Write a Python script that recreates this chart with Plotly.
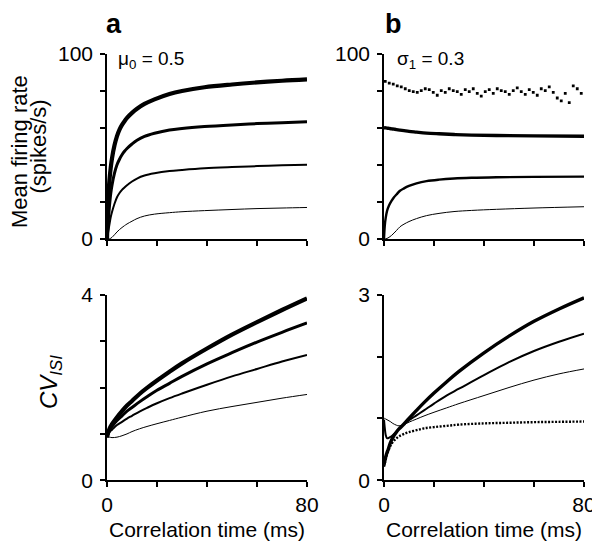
import plotly.graph_objects as go

# ---------------- data ----------------
tau_a = [0, 0.5, 1, 1.5, 2, 3, 4, 5, 6, 7, 8, 10, 12, 15, 19, 25, 30, 39, 50, 60, 70, 80]
rate_a1 = [0, 22, 32, 38.5, 43.5, 50.5, 55.5, 59, 61.5, 63.5, 65.3, 68, 70.2, 72.8, 75.3, 78.2, 79.8, 81.8, 83.3, 84.4, 85.3, 86]
rate_a2 = [0, 10, 18, 24.5, 29, 35.5, 40, 43, 45.4, 47.3, 48.8, 51.2, 53.2, 55.3, 57, 58.8, 59.6, 60.6, 61.5, 62.2, 62.7, 63.2]
rate_a3 = [0, 4, 8, 11.8, 14.5, 19, 22.5, 24.8, 26.5, 27.8, 29, 31, 32.6, 34.2, 35.4, 36.6, 37.2, 38.1, 38.8, 39.3, 39.7, 40]
rate_a4 = [0, 0, 0.1, 0.4, 0.9, 2.3, 3.8, 5.1, 6.2, 7.2, 8.1, 9.6, 11, 12.4, 13.4, 14.2, 14.7, 15.3, 15.9, 16.4, 16.7, 17]

tau_b = [0, 0.3, 0.7, 1.2, 2, 3, 4, 5, 6.4, 8, 10, 13, 17, 22, 28, 35, 45, 60, 80]
rate_b1 = [60, 59.95, 59.9, 59.8, 59.6, 59.4, 59.2, 59, 58.7, 58.4, 58, 57.6, 57.1, 56.7, 56.3, 56, 55.8, 55.6, 55.4]
rate_b2 = [0, 7, 11.5, 15, 18, 20.5, 22.5, 24, 26, 27.3, 28.6, 30, 31.2, 32, 32.6, 33, 33.3, 33.5, 33.6]
rate_b3 = [0, 0, 0.1, 0.3, 0.9, 1.9, 3.2, 4.6, 6.6, 8, 9.4, 11, 12.6, 13.8, 14.8, 15.4, 16, 16.7, 17.4]

tau_sim = [0.5 + 1.6 * i for i in range(50)]
rate_sim = [85, 84, 83.5, 82.5, 82, 81, 80, 79.5, 79, 80, 81, 80.5, 79, 77.5, 80, 79, 81, 80,
            79.5, 78, 80.5, 79.5, 81, 78.5, 77, 79.5, 80.5, 78.5, 81, 80, 79.5, 78, 80, 81.5,
            79.5, 78, 80.5, 79, 77.5, 81, 80, 82, 79, 76, 74.5, 78.5, 73.5, 82.5, 81, 78.5]

tau_cv = [0, 1, 2, 4, 6, 8, 10, 13, 16, 20, 25, 30, 40, 50, 60, 70, 80]
cv_a1 = [0.93, 1.11, 1.21, 1.36, 1.49, 1.61, 1.71, 1.86, 1.99, 2.15, 2.34, 2.52, 2.84, 3.14, 3.41, 3.67, 3.92]
cv_a2 = [0.93, 1.08, 1.16, 1.29, 1.39, 1.49, 1.57, 1.69, 1.80, 1.94, 2.09, 2.24, 2.51, 2.75, 2.98, 3.19, 3.39]
cv_a3 = [0.93, 1.04, 1.09, 1.19, 1.26, 1.33, 1.39, 1.48, 1.56, 1.66, 1.77, 1.87, 2.06, 2.24, 2.40, 2.56, 2.70]
cv_a4 = [0.94, 0.93, 0.92, 0.93, 0.96, 1.0, 1.05, 1.11, 1.16, 1.22, 1.29, 1.36, 1.49, 1.59, 1.68, 1.77, 1.85]

tau_cvb = [0, 0.3, 0.7, 1.2, 1.6, 2.5, 3.5, 5, 6, 8, 10, 13, 16, 20, 25, 30, 40, 50, 60, 70, 80]
cv_b1 = [0.25, 0.31, 0.38, 0.45, 0.49, 0.6, 0.69, 0.78, 0.83, 0.91, 1.0, 1.13, 1.255, 1.41, 1.59, 1.76, 2.06, 2.33, 2.57, 2.77, 2.95]
cv_b2 = [0.98, 0.85, 0.73, 0.68, 0.68, 0.7, 0.73, 0.79, 0.83, 0.91, 0.97, 1.05, 1.13, 1.24, 1.37, 1.48, 1.70, 1.91, 2.09, 2.24, 2.37]
cv_b3 = [1.0, 1.0, 0.99, 0.98, 0.97, 0.95, 0.92, 0.89, 0.88, 0.9, 0.94, 0.99, 1.04, 1.1, 1.17, 1.24, 1.37, 1.50, 1.62, 1.72, 1.80]
cv_sim = [0.22, 0.27, 0.34, 0.42, 0.46, 0.55, 0.62, 0.68, 0.71, 0.75, 0.78, 0.81, 0.84, 0.86, 0.88, 0.90, 0.92, 0.93, 0.94, 0.945, 0.95]

panel_labels = ["a", "b"]
param_labels = ["μ<sub>0</sub> = 0.5", "σ<sub>1</sub> = 0.3"]

# ---------------- figure ----------------
# the page body has an 8px margin; size the figure so it fits the 600x549 window
OFF = 8
W, H = 600 - OFF, 549 - OFF
FONT = "Liberation Sans, Arial, sans-serif"


def px(x):
    return (x - OFF) / W


def py(y):
    return 1 - (y - OFF) / H


fig = go.Figure()


def line(x, y, w, xa, ya, dash="solid"):
    fig.add_trace(go.Scatter(x=x, y=y, mode="lines", xaxis=xa, yaxis=ya,
                             line=dict(color="black", width=w, shape="spline", dash=dash),
                             showlegend=False, hoverinfo="skip"))


# top a
line(tau_a, rate_a4, 1, "x", "y")
line(tau_a, rate_a3, 2, "x", "y")
line(tau_a, rate_a2, 3, "x", "y")
line(tau_a, rate_a1, 4.2, "x", "y")
# top b
line(tau_b, rate_b3, 1, "x2", "y2")
line(tau_b, rate_b2, 2.4, "x2", "y2")
line(tau_b, rate_b1, 3.4, "x2", "y2")
fig.add_trace(go.Scatter(x=tau_sim, y=rate_sim, mode="markers", xaxis="x2", yaxis="y2",
                         marker=dict(color="black", size=2.8, symbol="square"),
                         showlegend=False, hoverinfo="skip"))
# bottom a
line(tau_cv, cv_a4, 1, "x3", "y3")
line(tau_cv, cv_a3, 2, "x3", "y3")
line(tau_cv, cv_a2, 3, "x3", "y3")
line(tau_cv, cv_a1, 4.2, "x3", "y3")
# bottom b
line(tau_cvb, cv_b3, 1, "x4", "y4")
line(tau_cvb, cv_b2, 2, "x4", "y4")
line(tau_cvb, cv_b1, 3.4, "x4", "y4")
line(tau_cvb, cv_sim, 2.4, "x4", "y4", dash="2px,1.5px")

xa_dom = [px(107), px(307)]
xb_dom = [px(384), px(584)]
ytop_dom = [py(239), py(53.5)]
ybot_dom = [py(480.3), py(294.7)]

axis_common = dict(showline=True, linecolor="black", linewidth=1.5, ticks="outside",
                   ticklen=5, tickwidth=1.5, tickcolor="black", showgrid=False,
                   zeroline=False, automargin=False,
                   tickfont=dict(family=FONT, size=21, color="black"))
yaxis_extra = dict(ticklabelstandoff=3)

xt = [0, 20, 40, 60, 80]
fig.update_layout(
    width=W, height=H, margin=dict(l=0, r=0, t=0, b=0, pad=0, autoexpand=False),
    plot_bgcolor="white", paper_bgcolor="white",
    xaxis=dict(domain=xa_dom, anchor="y", range=[0, 80], tickvals=xt,
               ticktext=[""] * 5, **axis_common),
    yaxis=dict(domain=ytop_dom, anchor="x", range=[0, 100], tickvals=[0, 20, 40, 60, 80, 100],
               ticktext=["0", "", "", "", "", "100"], **axis_common, **yaxis_extra),
    xaxis2=dict(domain=xb_dom, anchor="y2", range=[0, 80], tickvals=xt,
                ticktext=[""] * 5, **axis_common),
    yaxis2=dict(domain=ytop_dom, anchor="x2", range=[0, 100], tickvals=[0, 20, 40, 60, 80, 100],
                ticktext=["0", "", "", "", "", "100"], **axis_common, **yaxis_extra),
    xaxis3=dict(domain=xa_dom, anchor="y3", range=[0, 80], tickvals=xt,
                ticktext=["0", "", "", "", "80"], **axis_common),
    yaxis3=dict(domain=ybot_dom, anchor="x3", range=[0, 4], tickvals=[0, 1, 2, 3, 4],
                ticktext=["0", "", "", "", "4"], **axis_common, **yaxis_extra),
    xaxis4=dict(domain=xb_dom, anchor="y4", range=[0, 80], tickvals=xt,
                ticktext=["0", "", "", "", "80"], **axis_common),
    yaxis4=dict(domain=ybot_dom, anchor="x4", range=[0, 3], tickvals=[0, 1, 2, 3],
                ticktext=["0", "", "", "3"], **axis_common, **yaxis_extra),
)


def ann(text, x, y, size, angle=0, xanchor="center", yanchor="middle"):
    fig.add_annotation(text=text, x=px(x), y=py(y), xref="paper", yref="paper",
                       showarrow=False, textangle=angle, xanchor=xanchor, yanchor=yanchor,
                       borderpad=0,
                       font=dict(family=FONT, size=size, color="black"))


ann("<b>" + panel_labels[0] + "</b>", 114, 24, 27)
ann("<b>" + panel_labels[1] + "</b>", 393, 24, 27)
ann(param_labels[0], 117, 60, 19, xanchor="left")
ann(param_labels[1], 396, 60, 19, xanchor="left")
ann("Mean firing rate", 19, 152, 22, angle=-90)
ann("(spikes/s)", 38.5, 147, 22, angle=-90)
ann("<i>CV</i><sub><i>ISI</i></sub>", 50, 382, 24, angle=-90)
ann("Correlation time (ms)", 207, 529, 21)
ann("Correlation time (ms)", 484, 529, 21)

fig.write_html("out.html")
